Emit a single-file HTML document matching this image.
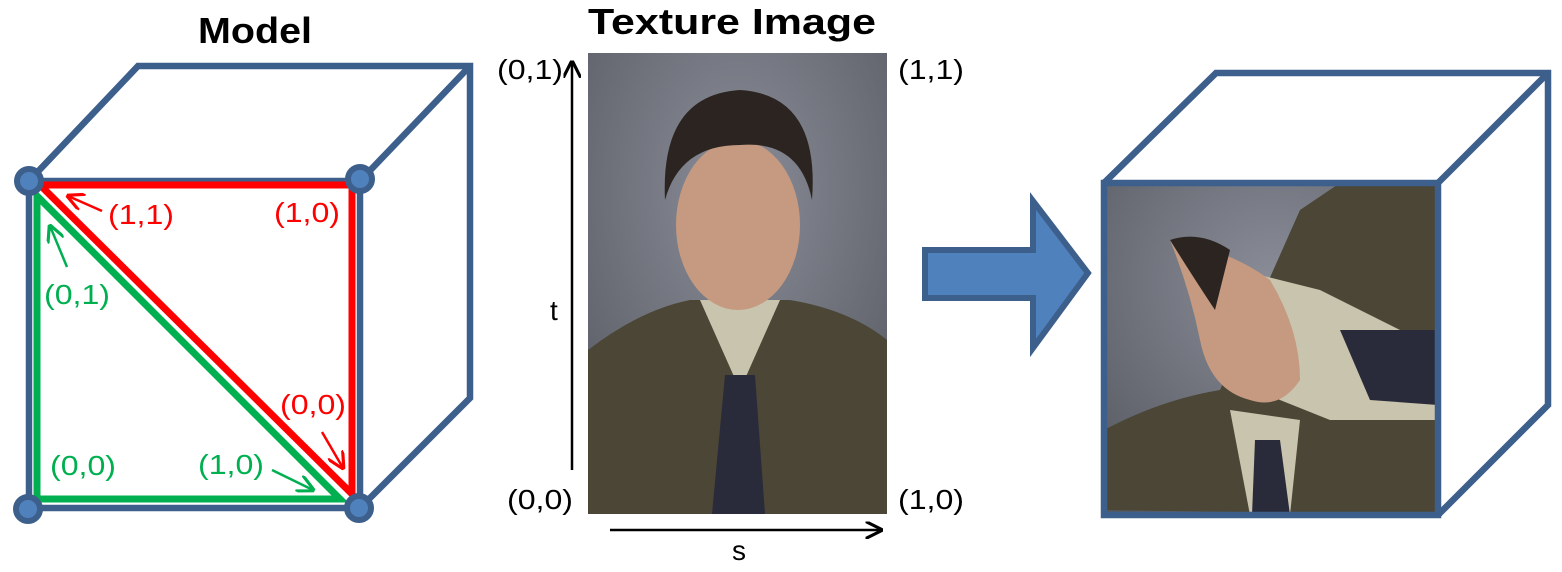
<!DOCTYPE html>
<html><head><meta charset="utf-8"><style>
body{margin:0;background:#fff;}
svg{display:block;font-family:"Liberation Sans",Calibri,sans-serif;}
</style></head><body>
<svg width="1562" height="572" viewBox="0 0 1562 572" xmlns="http://www.w3.org/2000/svg">
<defs>
<radialGradient id="bg" cx="0.5" cy="0.3" r="0.8"><stop offset="0" stop-color="#8a8d98"/><stop offset="1" stop-color="#55585f"/></radialGradient>
<marker id="ar" viewBox="0 0 10 10" refX="9" refY="5" markerWidth="7" markerHeight="7" orient="auto"><path d="M0,0 L10,5 L0,10" fill="none" stroke="red" stroke-width="1.8"/></marker>
<marker id="ag" viewBox="0 0 10 10" refX="9" refY="5" markerWidth="7" markerHeight="7" orient="auto"><path d="M0,0 L10,5 L0,10" fill="none" stroke="#00b050" stroke-width="1.8"/></marker>
<marker id="ab" viewBox="0 0 10 10" refX="9" refY="5" markerWidth="7" markerHeight="7" orient="auto"><path d="M0,0 L10,5 L0,10" fill="none" stroke="#000" stroke-width="1.8"/></marker>
<clipPath id="c1"><rect x="588" y="53" width="299" height="461"/></clipPath>
<clipPath id="c2"><rect x="1104" y="183" width="334" height="332"/></clipPath>
</defs>

<text x="198" y="43" font-size="36" font-weight="bold" textLength="114" lengthAdjust="spacingAndGlyphs">Model</text>
<text x="588" y="34" font-size="36" font-weight="bold" textLength="288" lengthAdjust="spacingAndGlyphs">Texture Image</text>

<!-- left cube -->
<g fill="none" stroke="#3d5f8c" stroke-width="6.5" stroke-linejoin="miter">
<path d="M29,181 L138,66 L470,66 L470,398 L360,508"/>
<path d="M360,181 L470,66"/>
<rect x="29" y="181" width="331" height="327"/>
</g>
<g fill="none" stroke="red" stroke-width="7">
<path d="M40,185 L352,185 L352,494 Z" stroke-linejoin="miter"/>
</g>
<g fill="none" stroke="#00b050" stroke-width="7">
<path d="M37,196 L37,499 L340,499 Z"/>
</g>
<g fill="#4f81bd" stroke="#3d5f8c" stroke-width="6">
<circle cx="29" cy="181" r="12"/><circle cx="360" cy="179" r="12"/>
<circle cx="28" cy="509" r="12"/><circle cx="359" cy="508" r="12"/>
</g>
<g font-size="28" fill="red">
<text x="108" y="224" textLength="66" lengthAdjust="spacingAndGlyphs">(1,1)</text>
<text x="274" y="222" textLength="66" lengthAdjust="spacingAndGlyphs">(1,0)</text>
<text x="280" y="414" textLength="66" lengthAdjust="spacingAndGlyphs">(0,0)</text>
</g>
<g font-size="28" fill="#00b050">
<text x="44" y="304" textLength="66" lengthAdjust="spacingAndGlyphs">(0,1)</text>
<text x="50" y="475" textLength="66" lengthAdjust="spacingAndGlyphs">(0,0)</text>
<text x="198" y="474" textLength="66" lengthAdjust="spacingAndGlyphs">(1,0)</text>
</g>
<g stroke-width="2.5">
<line x1="102" y1="211" x2="68" y2="196" stroke="red" marker-end="url(#ar)"/>
<line x1="322" y1="432" x2="343" y2="468" stroke="red" marker-end="url(#ar)"/>
<line x1="67" y1="267" x2="50" y2="226" stroke="#00b050" marker-end="url(#ag)"/>
<line x1="272" y1="470" x2="313" y2="490" stroke="#00b050" marker-end="url(#ag)"/>
</g>

<!-- texture image -->
<g clip-path="url(#c1)">
<rect x="588" y="53" width="299" height="461" fill="url(#bg)"/>
<path d="M588,350 Q640,310 690,300 L790,300 Q850,310 887,340 L887,514 L588,514 Z" fill="#4b4636"/>
<path d="M700,300 L740,390 L780,300 Z" fill="#c8c4ad"/>
<path d="M725,375 L755,375 L765,514 L712,514 Z" fill="#2a2b3a"/>
<ellipse cx="738" cy="225" rx="62" ry="85" fill="#c59a80"/>
<path d="M665,200 Q660,95 740,90 Q820,95 812,200 Q800,140 740,145 Q680,145 665,200 Z" fill="#2b2420"/>
</g>
<g font-size="28">
<text x="497" y="79" textLength="66" lengthAdjust="spacingAndGlyphs">(0,1)</text>
<text x="898" y="79" textLength="66" lengthAdjust="spacingAndGlyphs">(1,1)</text>
<text x="507" y="509" textLength="66" lengthAdjust="spacingAndGlyphs">(0,0)</text>
<text x="898" y="509" textLength="66" lengthAdjust="spacingAndGlyphs">(1,0)</text>
<text x="550" y="320">t</text>
<text x="732" y="560">s</text>
</g>
<line x1="572" y1="470" x2="572" y2="62" stroke="#000" stroke-width="2.5" marker-end="url(#ab)"/>
<line x1="610" y1="530" x2="881" y2="530" stroke="#000" stroke-width="2.5" marker-end="url(#ab)"/>

<!-- big arrow -->
<path d="M925,250 L1033,250 L1033,201 L1088,273 L1033,348 L1033,298 L925,298 Z" fill="#4f81bd" stroke="#3d5f8c" stroke-width="6" stroke-linejoin="miter"/>

<!-- right cube with texture -->
<g clip-path="url(#c2)">
<rect x="1104" y="183" width="334" height="332" fill="url(#bg)"/>
<path d="M1104,510 L1104,430 Q1160,400 1220,390 L1300,210 L1340,183 L1438,183 L1438,515 Z" fill="#4b4636"/>
<path d="M1230,410 L1250,515 L1290,515 L1300,420 Z" fill="#c8c4ad"/>
<path d="M1255,440 L1280,440 L1290,515 L1252,515 Z" fill="#2a2b3a"/>
<path d="M1240,270 L1320,290 L1400,330 L1438,360 L1438,420 L1330,420 L1280,400 L1240,380 Z" fill="#c8c4ad"/>
<path d="M1340,330 L1438,330 L1438,405 L1370,400 Z" fill="#2a2b3a"/>
<path d="M1170,240 Q1230,250 1270,280 Q1300,330 1300,380 Q1280,410 1250,400 Q1210,390 1200,340 Q1190,290 1170,240 Z" fill="#c59a80"/>
<path d="M1170,240 Q1200,230 1230,250 L1215,310 Q1195,280 1170,240 Z" fill="#2b2420"/>
</g>
<g fill="none" stroke="#3d5f8c" stroke-width="6.5">
<path d="M1104,183 L1216,73 L1548,73 L1548,405 L1438,515"/>
<path d="M1438,183 L1548,73"/>
<rect x="1104" y="183" width="334" height="332"/>
</g>
</svg>
</body></html>
